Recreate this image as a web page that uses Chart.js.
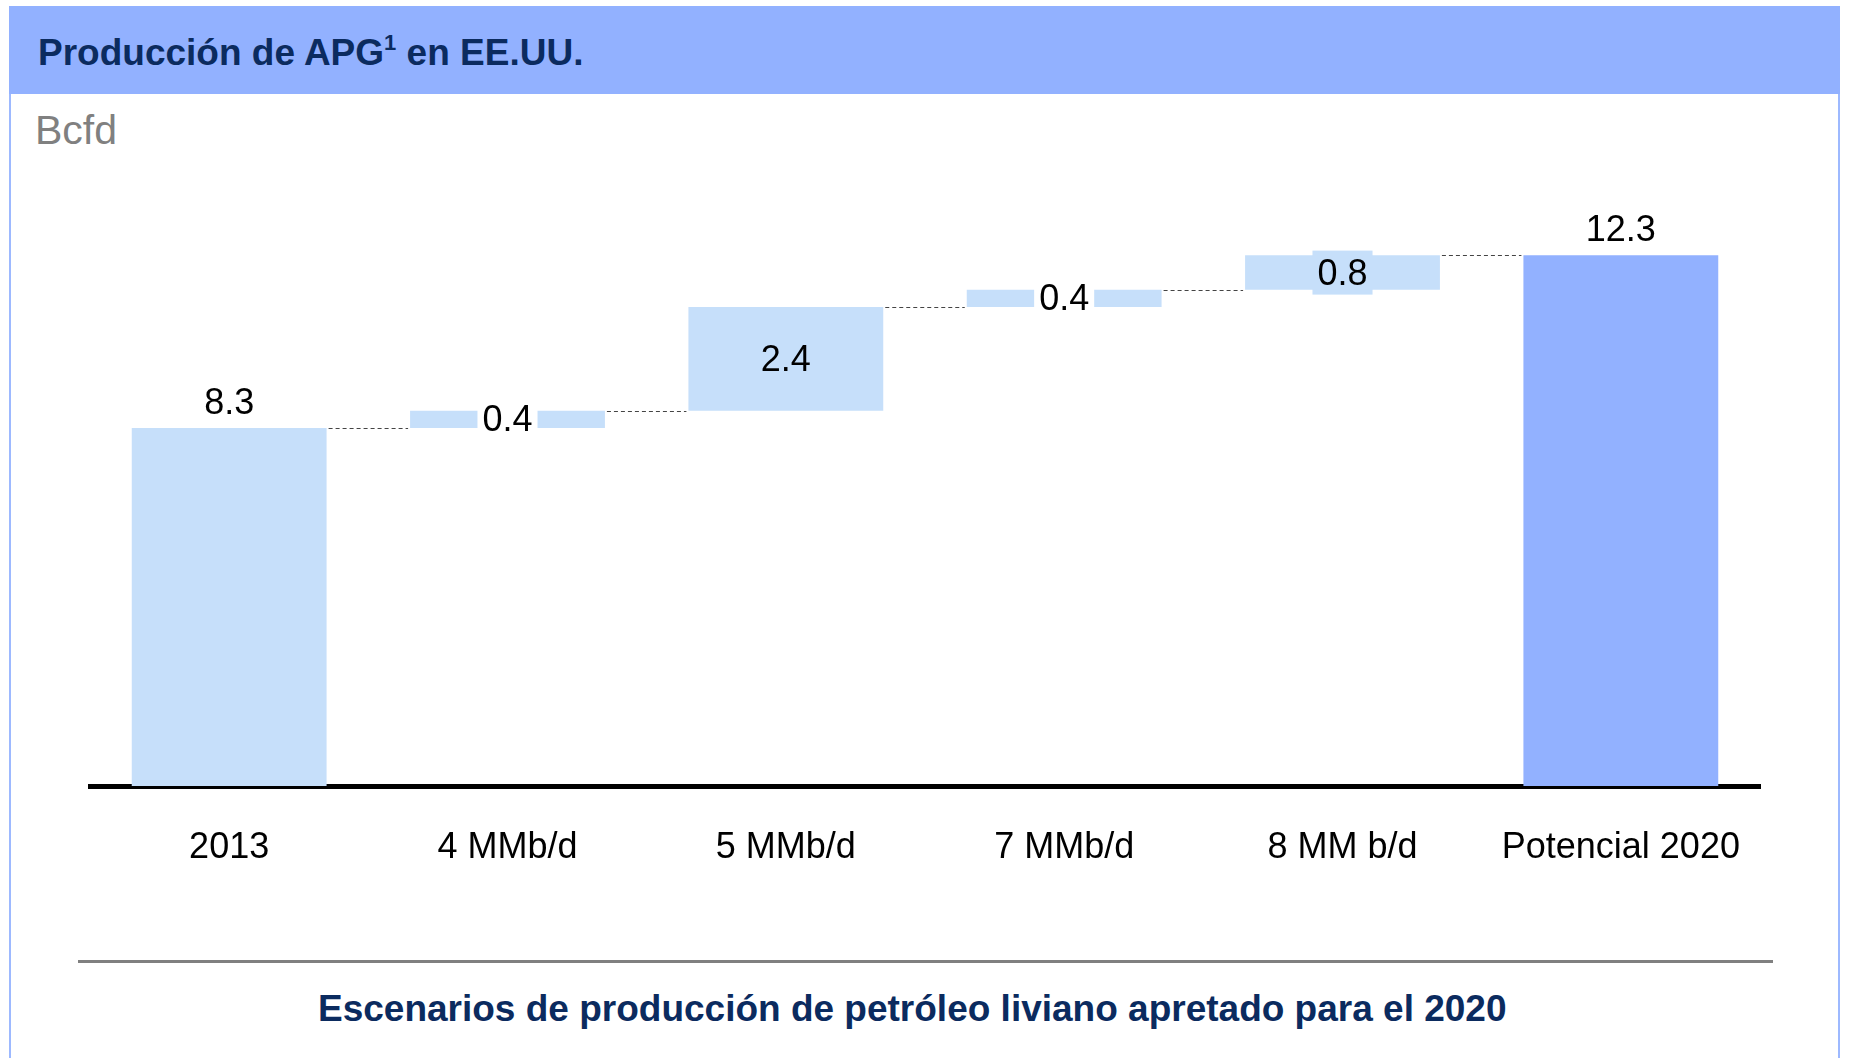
<!DOCTYPE html>
<html>
<head>
<meta charset="utf-8">
<script src="https://cdn.jsdelivr.net/npm/chart.js@4"></script>
<style>
  html, body { margin:0; padding:0; background:#ffffff; }
  body { width:1849px; height:1058px; position:relative; overflow:hidden; font-family:"Liberation Sans", Arial, Helvetica, sans-serif; }
  #header { position:absolute; left:9px; top:6px; width:1831px; height:88px; background:#92B1FF; }
  #title { position:absolute; left:38px; top:34px; line-height:37px; font-size:37px; font-weight:bold; color:#0B2B5F; white-space:nowrap; }
  #title sup { font-size:22px; line-height:0; position:relative; top:-2px; vertical-align:super; }
  #unit { position:absolute; left:35px; top:110px; line-height:41px; font-size:41px; color:#808080; white-space:nowrap; }
  .vborder { position:absolute; top:94px; width:2px; height:964px; background:#9DB9FF; }
  #footline { position:absolute; left:78px; top:960px; width:1695px; height:3px; background:#808080; }
  #foot { position:absolute; left:318px; top:990px; line-height:37px; font-size:37px; font-weight:bold; color:#0B2B5F; white-space:nowrap; }
  #c { position:absolute; left:0; top:0; }
</style>
</head>
<body>
<div id="header"></div>
<div id="title">Producción de APG<sup>1</sup> en EE.UU.</div>
<div id="unit">Bcfd</div>
<div class="vborder" style="left:9px;"></div>
<div class="vborder" style="left:1838px;"></div>
<div id="footline"></div>
<div id="foot">Escenarios de producción de petróleo liviano apretado para el 2020</div>
<canvas id="c" width="1849" height="1058"></canvas>
<script>
// ---- data ----
const categories = ['2013', '4 MMb/d', '5 MMb/d', '7 MMb/d', '8 MM b/d', 'Potencial 2020'];
const values = [8.3, 0.4, 2.4, 0.4, 0.8, 12.3];
const valueLabels = ['8.3', '0.4', '2.4', '0.4', '0.8', '12.3'];
const isTotal = [true, false, false, false, false, true];

// ---- styles ----
const LIGHT = '#C6DFFA';
const DARK = '#92B1FF';
const barColors = [LIGHT, LIGHT, LIGHT, LIGHT, LIGHT, DARK];
const labelBg = ['', '#ffffff', '', '#ffffff', LIGHT, ''];
const FONT = '"Liberation Sans", Arial, Helvetica, sans-serif';

// floating ranges built from values
const ranges = [];
let run = 0;
values.forEach((v, i) => {
  if (isTotal[i]) { ranges.push([0, v]); run = v; }
  else { ranges.push([run, run + v]); run += v; }
});

const waterfallPlugin = {
  id: 'waterfall',
  beforeDatasetsDraw(chart) {
    const ctx = chart.ctx;
    const meta = chart.getDatasetMeta(0);
    const y = chart.scales.y;
    ctx.save();
    ctx.strokeStyle = '#444444';
    ctx.lineWidth = 1.2;
    ctx.setLineDash([4, 3]);
    for (let i = 0; i < meta.data.length - 1; i++) {
      const a = meta.data[i], b = meta.data[i + 1];
      const level = ranges[i][1];
      const py = Math.round(y.getPixelForValue(level)) + 0.5;
      ctx.beginPath();
      ctx.moveTo(a.x + a.width / 2 + 2, py);
      ctx.lineTo(b.x - b.width / 2 - 2, py);
      ctx.stroke();
    }
    ctx.restore();
  },
  afterDatasetsDraw(chart) {
    const ctx = chart.ctx;
    const meta = chart.getDatasetMeta(0);
    ctx.save();
    ctx.font = '36px ' + FONT;
    ctx.textAlign = 'center';
    ctx.textBaseline = 'middle';
    meta.data.forEach((bar, i) => {
      const txt = valueLabels[i];
      let cy;
      if (isTotal[i]) {
        cy = Math.min(bar.y, bar.base) - 26;
      } else {
        cy = (bar.y + bar.base) / 2;
        if (labelBg[i]) {
          const w = ctx.measureText(txt).width + 10;
          const h = 44;
          ctx.fillStyle = labelBg[i];
          ctx.fillRect(bar.x - w / 2, cy - h / 2, w, h);
        }
      }
      ctx.fillStyle = '#000000';
      ctx.fillText(txt, bar.x, cy + 2);
    });
    ctx.restore();
  }
};

new Chart(document.getElementById('c'), {
  type: 'bar',
  data: {
    labels: categories,
    datasets: [{
      data: ranges,
      backgroundColor: barColors,
      borderWidth: 0,
      borderSkipped: false,
      barPercentage: 0.7,
      categoryPercentage: 1.0
    }]
  },
  options: {
    responsive: false,
    animation: false,
    devicePixelRatio: 1,
    layout: { padding: { left: 90, right: 89, top: 182, bottom: 172 } },
    plugins: { legend: { display: false }, tooltip: { enabled: false } },
    scales: {
      x: {
        z: 1,
        grid: { display: false, drawTicks: false },
        border: { display: true, color: '#000000', width: 5 },
        ticks: { color: '#000000', font: { family: FONT, size: 36 }, padding: 40, maxRotation: 0, autoSkip: false },
        afterFit: (s) => { s.height = 100; }
      },
      y: { display: false, min: 0, max: 14 }
    }
  },
  plugins: [waterfallPlugin]
});
</script>
</body>
</html>
